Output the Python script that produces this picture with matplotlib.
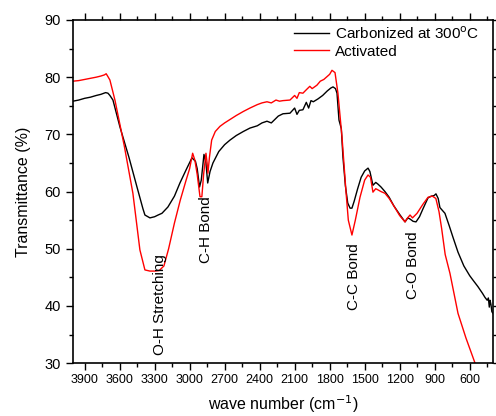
import numpy as np
import matplotlib.pyplot as plt
from matplotlib.ticker import MultipleLocator

plt.rcParams['font.family'] = ['Liberation Sans', 'DejaVu Sans']

# FTIR spectra (wave number in cm-1, transmittance in %)
wn_carb = [4000, 3950, 3900, 3850, 3800, 3760, 3720, 3700, 3683, 3657, 3597,
           3520, 3451, 3400, 3383, 3340, 3300, 3270, 3237, 3186, 3130, 3083,
           3030, 2980, 2950, 2935, 2915, 2900, 2877, 2860, 2845, 2825, 2800,
           2750, 2700, 2654, 2600, 2540, 2483, 2420, 2380, 2337, 2300, 2260,
           2240, 2200, 2140, 2100, 2080, 2060, 2029, 2000, 1980, 1960, 1940,
           1900, 1860, 1820, 1790, 1771, 1750, 1737, 1720, 1700, 1686, 1665,
           1645, 1625, 1609, 1590, 1560, 1530, 1500, 1471, 1455, 1429, 1405,
           1386, 1360, 1326, 1290, 1250, 1200, 1154, 1130, 1111, 1085, 1060,
           1030, 1000, 957, 930, 905, 889, 870, 855, 812, 775, 743, 700, 650,
           600, 571, 530, 490, 469, 450, 440, 432, 426, 418, 410, 400]
t_carb = [75.8, 76.0, 76.3, 76.5, 76.8, 77.0, 77.3, 77.2, 76.8, 76.0, 71.3,
          66.0, 60.8, 57.0, 55.9, 55.4, 55.6, 55.9, 56.2, 57.3, 59.2, 61.5,
          63.8, 65.9, 65.3, 64.0, 60.8, 62.0, 66.5, 65.0, 61.5, 63.5, 65.0,
          67.0, 68.2, 69.0, 69.8, 70.5, 71.1, 71.5, 72.0, 72.3, 72.0, 72.8,
          73.2, 73.6, 73.7, 74.6, 73.5, 74.2, 74.3, 75.6, 74.6, 75.9, 75.7,
          76.2, 76.8, 77.6, 78.1, 78.3, 78.0, 77.2, 72.5, 71.0, 66.0, 61.0,
          58.0, 57.1, 57.1, 58.3, 60.5, 62.5, 63.6, 64.1, 63.5, 61.1, 61.6,
          61.3, 60.8, 60.0, 59.0, 57.5, 56.0, 54.7, 55.4, 55.2, 54.8, 54.7,
          55.6, 57.0, 58.9, 59.2, 59.3, 59.6, 58.8, 57.2, 56.2, 54.0, 52.0,
          49.4, 47.0, 45.3, 44.5, 43.4, 42.2, 41.5, 41.0, 41.4, 39.8, 41.0,
          40.3, 39.0, 38.7]

wn_act = [4000, 3950, 3900, 3850, 3800, 3760, 3730, 3715, 3700, 3683, 3640,
          3560, 3486, 3426, 3383, 3340, 3300, 3260, 3220, 3180, 3130, 3080,
          3030, 3000, 2974, 2955, 2935, 2911, 2895, 2880, 2860, 2850, 2843,
          2830, 2811, 2780, 2740, 2700, 2600, 2540, 2483, 2420, 2380, 2337,
          2300, 2260, 2230, 2200, 2140, 2100, 2080, 2060, 2029, 2000, 1970,
          1950, 1909, 1880, 1850, 1800, 1780, 1754, 1729, 1694, 1660, 1640,
          1609, 1580, 1540, 1500, 1471, 1450, 1429, 1405, 1386, 1360, 1326,
          1290, 1250, 1200, 1154, 1140, 1111, 1090, 1051, 1000, 957, 920, 890,
          863, 840, 810, 769, 700, 632, 554, 500]
t_act = [79.3, 79.4, 79.6, 79.8, 80.0, 80.2, 80.4, 80.6, 80.1, 79.5, 76.0,
         68.0, 59.7, 49.8, 46.3, 46.1, 46.1, 46.2, 47.0, 50.0, 54.5, 58.5,
         62.0, 64.0, 66.7, 65.5, 63.0, 59.1, 59.1, 63.0, 66.7, 65.0, 63.2,
         66.0, 69.0, 70.5, 71.4, 72.0, 73.3, 74.0, 74.6, 75.2, 75.5, 75.7,
         75.5, 76.0, 75.8, 75.9, 76.0, 76.8, 76.3, 77.3, 77.2, 77.8, 78.4,
         78.0, 78.6, 79.3, 79.6, 80.5, 81.2, 80.8, 77.2, 69.5, 60.0, 55.0,
         52.4, 55.0, 59.0, 62.0, 62.9, 62.5, 59.9, 60.5, 60.3, 60.0, 59.7,
         58.8, 57.5, 55.8, 54.7, 55.2, 55.9, 55.4, 56.2, 57.8, 59.0, 59.2,
         58.8, 56.5, 53.5, 49.0, 45.7, 38.7, 34.4, 30.0, 27.0]

bond_labels = ['O-H Stretching', 'C-H Bond', 'C-C Bond', 'C-O Bond']
bond_x = [3250, 2860, 1592, 1085]
bond_y = [40.2, 53.3, 45.2, 47.1]

fig = plt.figure(figsize=(4.96, 4.16), dpi=100)
ax = fig.add_axes([0.147, 0.127, 0.847, 0.825])

ax.plot(wn_carb, t_carb, color='black', lw=1.0, label='Carbonized at 300$^{\\rm o}$C')
ax.plot(wn_act, t_act, color='red', lw=1.0, label='Activated')

for lab, bx, by in zip(bond_labels, bond_x, bond_y):
    ax.text(bx, by, lab, rotation=90, ha='center', va='center', fontsize=11)

ax.set_xlim(4000, 400)
ax.set_ylim(30, 90)
ax.xaxis.set_major_locator(MultipleLocator(300))
ax.xaxis.set_minor_locator(MultipleLocator(150))
ax.yaxis.set_major_locator(MultipleLocator(10))
ax.yaxis.set_minor_locator(MultipleLocator(5))
ax.set_xticks([3900, 3600, 3300, 3000, 2700, 2400, 2100, 1800, 1500, 1200, 900, 600])
ax.tick_params(which='both', direction='out', top=True, right=True)
ax.tick_params(which='major', length=5, width=1)
ax.tick_params(which='minor', length=3, width=1)
ax.tick_params(axis='x', labelsize=9, pad=3)
ax.tick_params(axis='y', labelsize=10.5)
for s in ax.spines.values():
    s.set_linewidth(1.2)

ax.set_xlabel('wave number (cm$^{-1}$)', fontsize=11.5, labelpad=5)
ax.set_ylabel('Transmittance (%)', fontsize=11.5, labelpad=10)

ax.legend(loc='upper right', bbox_to_anchor=(1.0, 1.025), frameon=False,
          fontsize=11, handlelength=2.3, handletextpad=0.4, labelspacing=0.2)

plt.savefig('out.png', dpi=100)
